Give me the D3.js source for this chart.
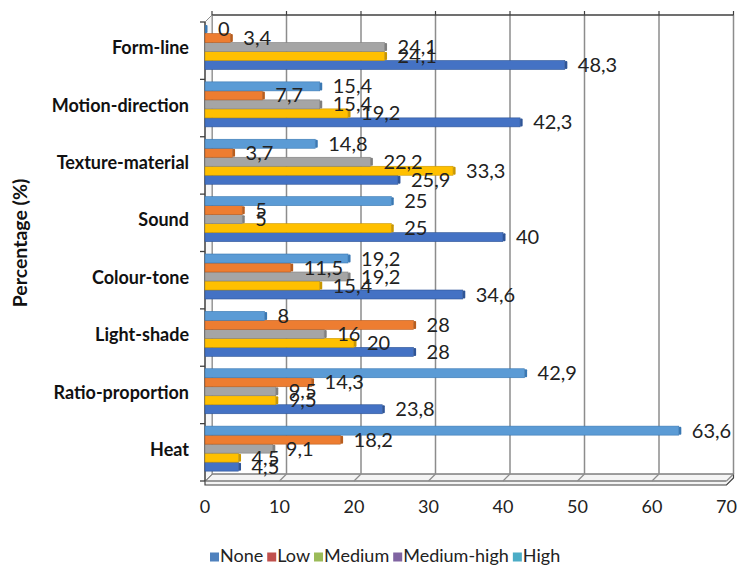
<!DOCTYPE html>
<html>
<head>
<meta charset="utf-8">
<script src="https://cdn.jsdelivr.net/npm/d3@7"></script>
<style>
  body { margin: 0; background: #fff; }
  svg { font-family: Lato, "Open Sans", sans-serif; }
</style>
</head>
<body>
<div class="canva"></div>
<script>
// categories, top to bottom
const categories = ["Form-line", "Motion-direction", "Texture-material", "Sound",
  "Colour-tone", "Light-shade", "Ratio-proportion", "Heat"];

const seriesNames = ["None", "Low", "Medium", "Medium-high", "High"];

// values per series, same order as categories
const noneVals       = [48.3, 42.3, 25.9, 40, 34.6, 28, 23.8, 4.5];
const lowVals        = [24.1, 19.2, 33.3, 25, 15.4, 20, 9.5, 4.5];
const mediumVals     = [24.1, 15.4, 22.2, 5, 19.2, 16, 9.5, 9.1];
const mediumHighVals = [3.4, 7.7, 3.7, 5, 11.5, 28, 14.3, 18.2];
const highVals       = [0, 15.4, 14.8, 25, 19.2, 8, 42.9, 63.6];

const xTicks = [0, 10, 20, 30, 40, 50, 60, 70];

// bar colours (as drawn) and legend swatch colours (as in the legend)
const barColors = ["#4472c4", "#ffc000", "#a5a5a5", "#ed7d31", "#5b9bd5"];
const barEdge   = ["#2f5597", "#c99700", "#7f7f7f", "#b85d1e", "#3a78b3"];
const legendColors = ["#4f81bd", "#c0504d", "#9bbb59", "#8064a2", "#4bacc6"];

const allVals = [noneVals, lowVals, mediumVals, mediumHighVals, highVals];
const rows = [];
categories.forEach((c, i) => {
  seriesNames.forEach((s, j) => {
    rows.push({cat: c, series: s, idx: j, value: allVals[j][i]});
  });
});

const W = 737, H = 570;
const svg = d3.select(".canva").append("svg")
  .attr("width", W)
  .attr("height", H);

// front plane and back wall offset (3D look)
const dx = 7, dy = 7;
const plotTop = 22, plotBottom = 481;
const x = d3.scaleLinear().domain([0, 70]).range([205, 726.5]);
const y0 = d3.scaleBand().domain(categories).range([plotTop, plotBottom]);
const y1 = d3.scaleBand().domain(["High", "Medium-high", "Medium", "Low", "None"])
  .range([2.5, 47.5]);

// floor
svg.append("polygon")
  .attr("points", [[x(0), plotBottom], [x(0) + dx, plotBottom - dy], [x(70) + dx, plotBottom - dy],
    [x(70) + dx, plotBottom - dy + 4], [x(70), plotBottom + 4], [x(0), plotBottom + 4]].join(" "))
  .attr("fill", "#f4f4f4")
  .attr("stroke", "#404040")
  .attr("stroke-width", 1.2);
svg.append("line")
  .attr("x1", x(0)).attr("x2", x(70))
  .attr("y1", plotBottom).attr("y2", plotBottom)
  .attr("stroke", "#404040").attr("stroke-width", 1.2);

// gridlines on back wall + floor diagonals
const grid = svg.append("g");
xTicks.forEach(t => {
  grid.append("line")
    .attr("x1", x(t) + dx).attr("x2", x(t) + dx)
    .attr("y1", plotTop - dy).attr("y2", plotBottom - dy)
    .attr("stroke", "#8c8c8c").attr("stroke-width", 1.5);
  grid.append("line")
    .attr("x1", x(t) + dx).attr("x2", x(t))
    .attr("y1", plotBottom - dy).attr("y2", plotBottom)
    .attr("stroke", "#8c8c8c").attr("stroke-width", 1.2);
  // little tick on top edge
  grid.append("line")
    .attr("x1", x(t) + dx).attr("x2", x(t) + dx)
    .attr("y1", plotTop - dy).attr("y2", plotTop - dy - 4)
    .attr("stroke", "#404040").attr("stroke-width", 1.2);
});

// top edge
svg.append("line")
  .attr("x1", x(0) + dx).attr("x2", x(70) + dx)
  .attr("y1", plotTop - dy).attr("y2", plotTop - dy)
  .attr("stroke", "#404040").attr("stroke-width", 1.3);
// left wall
svg.append("polygon")
  .attr("points", [[x(0), plotTop], [x(0) + dx, plotTop - dy], [x(0) + dx, plotBottom - dy], [x(0), plotBottom]].join(" "))
  .attr("fill", "#f7f7f7")
  .attr("stroke", "#8c8c8c").attr("stroke-width", 1);
svg.append("line")
  .attr("x1", x(0)).attr("x2", x(0))
  .attr("y1", plotTop).attr("y2", plotBottom)
  .attr("stroke", "#404040").attr("stroke-width", 1.3);

// y ticks at band edges
const yEdges = categories.map(c => y0(c)).concat([plotBottom]);
svg.append("g").selectAll("line")
  .data(yEdges)
  .enter().append("line")
  .attr("x1", x(0) - 5).attr("x2", x(0))
  .attr("y1", d => d).attr("y2", d => d)
  .attr("stroke", "#404040").attr("stroke-width", 1.3);

// bars
const bars = svg.append("g").selectAll("g")
  .data(rows)
  .enter().append("g")
  .attr("transform", d => `translate(0,${y0(d.cat) + y1(d.series)})`);

bars.append("rect")
  .attr("x", x(0))
  .attr("y", 0)
  .attr("width", d => Math.max(x(d.value) - x(0), 0))
  .attr("height", y1.bandwidth())
  .attr("fill", d => barColors[d.idx])
  .attr("stroke", d => barEdge[d.idx])
  .attr("stroke-width", 0.6);

// end cap for depth
bars.append("rect")
  .attr("x", d => x(d.value))
  .attr("y", 0.5)
  .attr("width", 2.5)
  .attr("height", y1.bandwidth() - 1)
  .attr("rx", 1)
  .attr("fill", d => barEdge[d.idx]);

// data labels
const fmt = v => String(v).replace(".", ",");
svg.append("g").selectAll("text")
  .data(rows)
  .enter().append("text")
  .attr("x", d => x(d.value) + 13)
  .attr("y", d => y0(d.cat) + y1(d.series) + y1.bandwidth() / 2 + 2)
  .attr("dominant-baseline", "middle")
  .attr("font-size", 20)
  .attr("fill", "#222")
  .text(d => fmt(d.value));

// category labels
svg.append("g").selectAll("text")
  .data(categories)
  .enter().append("text")
  .attr("x", 189)
  .attr("y", d => y0(d) + y0.bandwidth() / 2 - 1)
  .attr("text-anchor", "end")
  .attr("dominant-baseline", "middle")
  .attr("font-size", 18)
  .attr("font-weight", "bold")
  .attr("fill", "#111")
  .text(d => d);

// x tick labels
svg.append("g").selectAll("text")
  .data(xTicks)
  .enter().append("text")
  .attr("x", d => x(d))
  .attr("y", 508)
  .attr("text-anchor", "middle")
  .attr("dominant-baseline", "middle")
  .attr("font-size", 18)
  .attr("fill", "#222")
  .text(d => d);

// y axis title
svg.append("text")
  .attr("transform", "translate(22,243) rotate(-90)")
  .attr("text-anchor", "middle")
  .attr("dominant-baseline", "middle")
  .attr("font-size", 19.5)
  .attr("font-weight", "bold")
  .attr("fill", "#111")
  .text("Percentage (%)");

// legend
const legend = svg.append("g").attr("transform", "translate(210,557)");
let lx = 0;
seriesNames.forEach((s, i) => {
  const g = legend.append("g").attr("transform", `translate(${lx},0)`);
  g.append("rect")
    .attr("x", 0).attr("y", -4.5)
    .attr("width", 9).attr("height", 9)
    .attr("fill", legendColors[i]);
  const t = g.append("text")
    .attr("x", 10)
    .attr("y", 0)
    .attr("dominant-baseline", "middle")
    .attr("font-size", 18)
    .attr("fill", "#222")
    .text(s);
  lx += 10 + t.node().getComputedTextLength() + 4;
});
</script>
</body>
</html>
